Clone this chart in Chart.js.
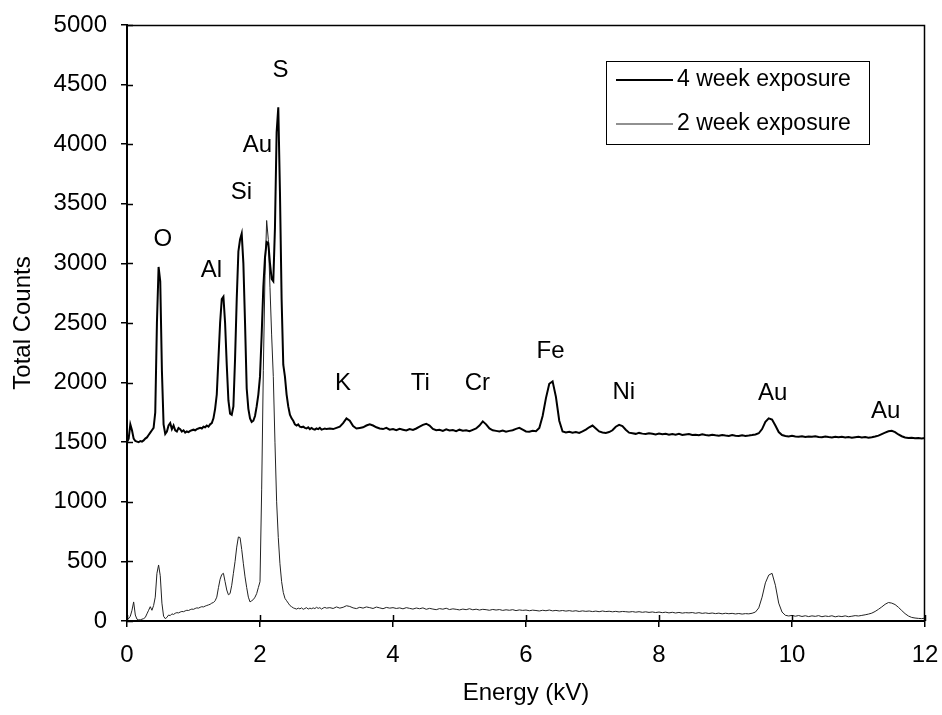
<!DOCTYPE html>
<html>
<head>
<meta charset="utf-8">
<script src="https://cdn.jsdelivr.net/npm/chart.js@4.4.0/dist/chart.umd.min.js"></script>
<style>
html, body { margin: 0; padding: 0; background: #fff; }
</style>
</head>
<body>
<canvas id="myChart1" width="942" height="715"></canvas>
<script>
// energy channels (kV), fine steps below 3 kV, coarser above
var energyLow = [
  0,0.025,0.05,0.075,0.1,0.125,0.15,0.175,
  0.2,0.225,0.25,0.275,0.3,0.325,0.35,0.375,
  0.4,0.425,0.45,0.475,0.5,0.525,0.55,0.575,
  0.6,0.625,0.65,0.675,0.7,0.725,0.75,0.775,
  0.8,0.825,0.85,0.875,0.9,0.925,0.95,0.975,
  1,1.025,1.05,1.075,1.1,1.125,1.15,1.175,
  1.2,1.225,1.25,1.275,1.3,1.325,1.35,1.375,
  1.4,1.425,1.45,1.475,1.5,1.525,1.55,1.575,
  1.6,1.625,1.65,1.675,1.7,1.725,1.75,1.775,
  1.8,1.825,1.85,1.875,1.9,1.925,1.95,1.975,
  2,2.025,2.05,2.075,2.1,2.125,2.15,2.175,
  2.2,2.225,2.25,2.275,2.3,2.325,2.35,2.375,
  2.4,2.425,2.45,2.475,2.5,2.525,2.55,2.575,
  2.6,2.625,2.65,2.675,2.7,2.725,2.75,2.775,
  2.8,2.825,2.85,2.875,2.9,2.925,2.95,2.975,
  3
];
var energyHigh = [
  3.05,3.1,3.15,3.2,3.25,3.3,3.35,3.4,3.45,3.5,
  3.55,3.6,3.65,3.7,3.75,3.8,3.85,3.9,3.95,4,
  4.05,4.1,4.15,4.2,4.25,4.3,4.35,4.4,4.45,4.5,
  4.55,4.6,4.65,4.7,4.75,4.8,4.85,4.9,4.95,5,
  5.05,5.1,5.15,5.2,5.25,5.3,5.35,5.4,5.45,5.5,
  5.55,5.6,5.65,5.7,5.75,5.8,5.85,5.9,5.95,6,
  6.05,6.1,6.15,6.2,6.25,6.3,6.35,6.4,6.45,6.5,
  6.55,6.6,6.65,6.7,6.75,6.8,6.85,6.9,6.95,7,
  7.05,7.1,7.15,7.2,7.25,7.3,7.35,7.4,7.45,7.5,
  7.55,7.6,7.65,7.7,7.75,7.8,7.85,7.9,7.95,8,
  8.05,8.1,8.15,8.2,8.25,8.3,8.35,8.4,8.45,8.5,
  8.55,8.6,8.65,8.7,8.75,8.8,8.85,8.9,8.95,9,
  9.05,9.1,9.15,9.2,9.25,9.3,9.35,9.4,9.45,9.5,
  9.55,9.6,9.65,9.7,9.75,9.8,9.85,9.9,9.95,10,
  10.05,10.1,10.15,10.2,10.25,10.3,10.35,10.4,10.45,10.5,
  10.55,10.6,10.65,10.7,10.75,10.8,10.85,10.9,10.95,11,
  11.05,11.1,11.15,11.2,11.25,11.3,11.35,11.4,11.45,11.5,
  11.55,11.6,11.65,11.7,11.75,11.8,11.85,11.9,11.95,12
];

// 4 week exposure counts
var week4Low = [
  1500,1530,1650,1600,1530,1510,1505,1500,
  1510,1505,1515,1530,1540,1560,1580,1600,
  1620,1750,2500,2970,2850,2100,1650,1570,
  1590,1640,1660,1610,1640,1600,1590,1620,
  1610,1590,1600,1580,1590,1585,1595,1600,
  1605,1600,1610,1615,1620,1615,1630,1625,
  1640,1630,1650,1660,1700,1780,1900,2200,
  2500,2700,2720,2500,2150,1850,1740,1730,
  1800,2200,2700,3100,3200,3250,3000,2500,
  1950,1780,1700,1670,1680,1720,1800,1900,
  2050,2400,2800,3050,3180,3170,3000,2870,
  2850,3300,4100,4310,3600,2700,2150,2050,
  1900,1800,1730,1700,1680,1650,1640,1650,
  1630,1625,1630,1620,1615,1625,1610,1620,
  1610,1605,1615,1610,1620,1605,1610,1615,
  1610
];
var week4High = [
  1615,1610,1620,1630,1660,1700,1680,1635,1615,1620,
  1625,1640,1650,1640,1625,1615,1610,1620,1605,1610,
  1600,1612,1605,1598,1610,1603,1615,1630,1645,1655,
  1640,1612,1600,1605,1595,1608,1598,1602,1593,1605,
  1597,1600,1592,1604,1615,1640,1675,1650,1615,1600,
  1595,1590,1598,1588,1595,1600,1612,1620,1605,1590,
  1588,1595,1592,1620,1720,1870,1990,2010,1880,1680,
  1590,1582,1588,1580,1585,1578,1590,1605,1625,1640,
  1615,1590,1582,1578,1585,1600,1630,1645,1635,1605,
  1580,1575,1570,1578,1572,1568,1575,1570,1565,1572,
  1566,1570,1562,1568,1563,1570,1560,1565,1568,1560,
  1563,1558,1566,1560,1556,1562,1558,1555,1560,1556,
  1553,1560,1555,1552,1558,1553,1556,1560,1565,1575,
  1610,1670,1700,1690,1640,1585,1560,1552,1548,1553,
  1548,1545,1550,1543,1548,1545,1550,1544,1542,1548,
  1543,1540,1546,1541,1545,1540,1543,1538,1542,1545,
  1540,1543,1538,1542,1548,1555,1568,1580,1592,1595,
  1585,1565,1550,1540,1535,1538,1533,1536,1532,1535
];

// 2 week exposure counts
var week2Low = [
  30,20,40,90,160,50,15,10,
  10,15,20,30,60,90,120,90,
  130,200,400,470,380,150,40,20,
  30,50,45,60,55,65,70,68,
  75,80,78,85,90,88,95,100,
  98,105,110,108,115,120,118,125,
  130,135,140,150,155,170,200,280,
  350,390,400,330,260,220,230,300,
  400,500,620,705,700,600,480,370,
  280,200,160,170,180,200,230,280,
  330,1100,2100,2900,3360,3200,2800,2400,
  2050,1500,1000,700,480,330,240,190,
  170,150,130,120,110,105,100,108,
  102,110,98,105,112,100,108,103,
  110,104,115,106,112,100,109,114,
  108
];
var week2High = [
  112,105,118,108,115,128,122,110,104,115,
  108,118,112,105,117,110,103,114,108,112,
  105,110,102,112,106,100,109,103,110,98,
  106,100,95,104,99,107,96,102,98,93,
  100,95,103,94,99,92,98,95,90,97,
  92,96,89,94,90,95,87,93,89,92,
  86,91,88,84,90,86,92,85,89,84,
  88,83,87,82,86,80,85,81,84,79,
  83,78,84,79,82,77,81,76,80,78,
  75,79,74,78,73,77,72,76,71,75,
  70,74,68,73,67,72,66,70,68,71,
  65,70,64,68,63,67,62,66,60,65,
  61,64,59,63,58,62,60,65,75,110,
  200,320,385,400,300,150,75,48,42,47,
  40,46,38,44,37,43,39,45,36,42,
  38,44,35,41,37,43,36,40,45,42,
  47,52,58,66,80,98,118,140,155,150,
  138,115,88,62,42,30,25,22,20,24
];

// element labels placed at (energy, counts)
var peakNames  = ['O', 'Al', 'Si', 'Au', 'S', 'K', 'Ti', 'Cr', 'Fe', 'Ni', 'Au', 'Au'];
var peakEnergy = [0.54, 1.27, 1.72, 1.96, 2.31, 3.25, 4.41, 5.27, 6.37, 7.47, 9.71, 11.41];
var peakCounts = [3200, 2940, 3600, 3990, 4620, 1990, 1990, 1990, 2260, 1920, 1910, 1760];

var xTicks = [0, 12, 2];      // min, max, step
var yTicks = [0, 5000, 500];

var energy = energyLow.concat(energyHigh);
function pairs(vals) {
  return vals.map(function(v, i) { return {x: energy[i], y: v}; });
}

var FONT = '"Liberation Sans", Arial, sans-serif';

var extras = {
  id: 'extras',
  afterDraw: function(chart) {
    var c = chart.ctx, a = chart.chartArea;
    var sx = chart.scales.x, sy = chart.scales.y;
    c.save();
    c.strokeStyle = '#000';
    // top / right frame
    c.lineWidth = 1.5;
    c.beginPath();
    c.moveTo(a.left, a.top + 0.5);
    c.lineTo(a.right - 0.5, a.top + 0.5);
    c.lineTo(a.right - 0.5, a.bottom);
    c.stroke();
    // tick marks crossing into the plot
    c.beginPath();
    sx.ticks.forEach(function(t) {
      var px = Math.round(sx.getPixelForValue(t.value)) + 0.5;
      c.moveTo(px, a.bottom); c.lineTo(px, a.bottom - 6);
    });
    sy.ticks.forEach(function(t) {
      var py = Math.round(sy.getPixelForValue(t.value)) + 0.5;
      c.moveTo(a.left, py); c.lineTo(a.left + 6, py);
    });
    c.stroke();
    // element labels
    c.fillStyle = '#000';
    c.font = '24px ' + FONT;
    c.textAlign = 'center';
    c.textBaseline = 'middle';
    for (var i = 0; i < peakNames.length; i++) {
      c.fillText(peakNames[i], sx.getPixelForValue(peakEnergy[i]), sy.getPixelForValue(peakCounts[i]));
    }
    // legend box
    var ds = chart.data.datasets;
    var bx = 606, by = 61, bw = 263, bh = 83;
    c.fillStyle = '#fff';
    c.fillRect(bx, by, bw, bh);
    c.lineWidth = 1;
    c.strokeStyle = '#000';
    c.strokeRect(bx + 0.5, by + 0.5, bw, bh);
    c.font = '23px ' + FONT;
    c.textAlign = 'left';
    ds.forEach(function(d, k) {
      var ly = by + 19 + k * 44;
      c.strokeStyle = d.borderColor;
      c.lineWidth = d.borderWidth;
      c.beginPath();
      c.moveTo(bx + 10, ly); c.lineTo(bx + 67, ly);
      c.stroke();
      c.fillStyle = '#000';
      c.fillText(d.label, bx + 71, ly);
    });
    c.restore();
  }
};

function plain(v) { return String(v); }

var ctx = document.getElementById('myChart1');
var myChart = new Chart(ctx, {
  type: 'line',
  data: {
    datasets: [
      {
        label: '4 week exposure',
        data: pairs(week4Low.concat(week4High)),
        borderColor: '#000',
        borderWidth: 2,
        pointRadius: 0,
        fill: false
      },
      {
        label: '2 week exposure',
        data: pairs(week2Low.concat(week2High)),
        borderColor: '#222',
        borderWidth: 1,
        pointRadius: 0,
        fill: false
      }
    ]
  },
  plugins: [extras],
  options: {
    responsive: false,
    animation: false,
    layout: { padding: { top: 25, right: 17, left: 0, bottom: 0 } },
    plugins: { legend: { display: false }, tooltip: { enabled: false } },
    scales: {
      x: {
        type: 'linear',
        min: xTicks[0], max: xTicks[1],
        afterFit: function(s) { s.height = 94; s.paddingLeft = 0; s.paddingRight = 0; },
        ticks: { stepSize: xTicks[2], padding: 14, color: '#000', font: { family: FONT, size: 24 }, callback: plain },
        grid: { drawOnChartArea: false, drawTicks: true, tickLength: 6, color: '#000', lineWidth: 1.5 },
        border: { color: '#000', width: 2 },
        title: { display: true, text: 'Energy (kV)', color: '#000', font: { family: FONT, size: 24 }, padding: { top: 0, bottom: 7 } }
      },
      y: {
        min: yTicks[0], max: yTicks[1],
        afterFit: function(s) { s.width = 127; s.paddingTop = 0; s.paddingBottom = 0; },
        ticks: { stepSize: yTicks[2], padding: 14, color: '#000', font: { family: FONT, size: 24 }, callback: plain },
        grid: { drawOnChartArea: false, drawTicks: true, tickLength: 6, color: '#000', lineWidth: 1.5 },
        border: { color: '#000', width: 2 },
        title: { display: true, text: 'Total Counts', color: '#000', font: { family: FONT, size: 24 }, padding: { top: 9, bottom: 0 } }
      }
    }
  }
});
</script>
</body>
</html>
